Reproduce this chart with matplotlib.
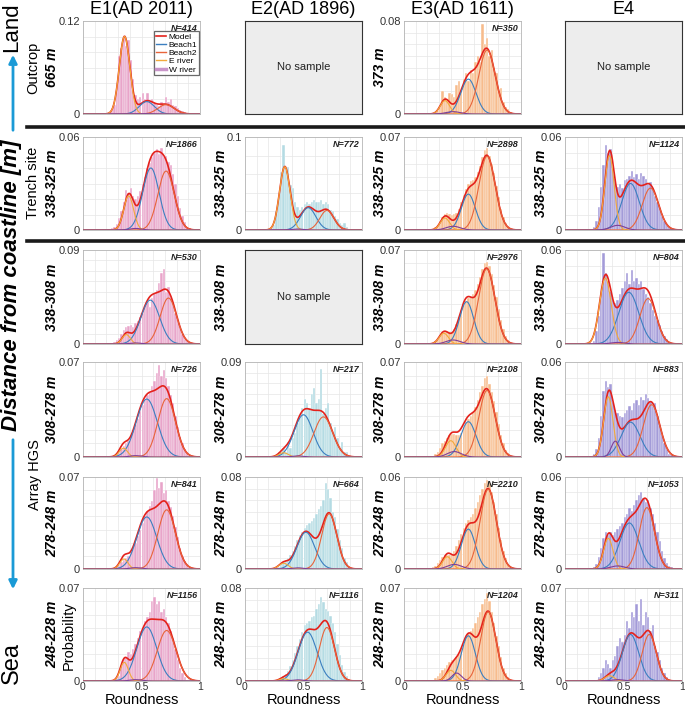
import numpy as np
import matplotlib
matplotlib.use('Agg')
import matplotlib.pyplot as plt
from matplotlib.lines import Line2D
from matplotlib.patches import FancyArrowPatch

plt.rcParams['font.family'] = ['Liberation Sans', 'DejaVu Sans']

# --- data -----------------------------------------------------------------
BIN_W = 0.02
bin_centers = np.round(np.arange(0.21, 0.951, BIN_W), 2)   # 38 bins, 0.20-0.96

column_titles = ['E1(AD 2011)', 'E2(AD 1896)', 'E3(AD 1611)', 'E4']
outcrop_dist = ['665 m', None, '373 m', None]
row_dist = [None, '338-325 m', '338-308 m', '308-278 m', '278-248 m', '248-228 m']
legend_labels = ['Model', 'Beach1', 'Beach2', 'E river', 'W river']

# y-axis maximum per panel (rows top->bottom), None = no sample
e1_ymax = [0.12, 0.06, 0.09, 0.07, 0.07, 0.07]
e2_ymax = [None, 0.1, None, 0.09, 0.08, 0.08]
e3_ymax = [0.08, 0.07, 0.07, 0.07, 0.06, 0.07]
e4_ymax = [None, 0.06, 0.06, 0.06, 0.06, 0.07]

e1_n = [414, 1866, 530, 726, 841, 1156]
e2_n = [None, 772, None, 217, 664, 1116]
e3_n = [350, 2898, 2976, 2108, 2210, 1204]
e4_n = [None, 1124, 804, 883, 1053, 311]

# histogram probabilities per bin
e1_hist = [
    [0, .002, .005, .012, .035, .075, .085, .100, .088, .095,
     .070, .045, .025, .020, .022, .027, .020, .027, .017, .020,
     .014, .012, .010, .015, .012, .022, .015, .019, .012, .010,
     .008, .005, .004, .002, .001, 0, 0, 0],
    [0, 0, .001, .002, .004, .008, .012, .018, .026, .024,
     .027, .022, .020, .022, .025, .030, .034, .040, .043, .047,
     .050, .052, .049, .053, .047, .048, .044, .042, .036, .030,
     .022, .014, .009, .005, .002, .001, 0, 0],
    [0, 0, .001, .002, .004, .006, .010, .013, .016, .017,
     .018, .016, .020, .022, .026, .030, .036, .040, .035, .044,
     .048, .052, .058, .068, .072, .050, .055, .045, .040, .030,
     .022, .015, .010, .005, .003, .001, 0, 0],
    [0, 0, 0, .001, .002, .004, .006, .008, .010, .012,
     .016, .020, .024, .028, .034, .038, .042, .046, .048, .052,
     .056, .062, .068, .060, .064, .058, .052, .046, .040, .030,
     .022, .015, .010, .006, .003, .001, 0, 0],
    [0, 0, 0, .001, .002, .003, .005, .007, .008, .010,
     .012, .015, .020, .025, .030, .035, .040, .044, .048, .052,
     .060, .069, .062, .066, .058, .060, .052, .047, .040, .032,
     .024, .016, .010, .006, .003, .001, 0, 0],
    [0, 0, 0, .001, .002, .004, .012, .017, .018, .022,
     .020, .024, .028, .032, .038, .040, .045, .048, .052, .060,
     .063, .058, .060, .052, .054, .048, .044, .038, .032, .024,
     .016, .010, .006, .003, .001, 0, 0, 0],
]
e2_hist = [
    None,
    [0, .002, .005, .020, .035, .062, .091, .065, .068, .048,
     .045, .030, .025, .022, .025, .028, .030, .028, .030, .032,
     .030, .030, .032, .028, .030, .028, .022, .020, .015, .012,
     .008, .005, .007, .003, .001, 0, 0, 0],
    None,
    [0, 0, 0, 0, .005, .005, .009, .005, .014, .009,
     .018, .023, .032, .037, .046, .055, .051, .046, .060, .065,
     .051, .055, .083, .041, .046, .051, .032, .023, .028, .018,
     .009, .014, .005, .005, 0, 0, 0, 0],
    [0, 0, 0, .001, .002, .004, .006, .008, .010, .012,
     .016, .020, .025, .030, .032, .036, .038, .040, .042, .044,
     .048, .052, .055, .060, .075, .070, .062, .050, .045, .035,
     .025, .018, .010, .006, .003, .001, 0, 0],
    [0, 0, 0, 0, .001, .002, .004, .006, .009, .013,
     .018, .024, .030, .036, .042, .048, .050, .052, .055, .056,
     .062, .066, .072, .068, .062, .060, .056, .050, .042, .032,
     .022, .014, .008, .004, .002, .001, 0, 0],
]
e3_hist = [
    [0, 0, 0, .001, .003, .006, .020, .015, .012, .018,
     .017, .015, .025, .028, .020, .030, .035, .028, .038, .035,
     .045, .050, .045, .077, .060, .065, .050, .055, .040, .035,
     .020, .022, .010, .006, .004, .002, 0, 0],
    [0, 0, .001, .002, .004, .007, .010, .012, .013, .012,
     .011, .012, .013, .016, .021, .026, .031, .035, .037, .038,
     .040, .044, .048, .055, .060, .062, .056, .050, .043, .033,
     .025, .016, .010, .005, .003, .001, 0, 0],
    [0, 0, .001, .002, .004, .007, .009, .010, .010, .009,
     .009, .011, .015, .020, .025, .029, .032, .034, .035, .037,
     .040, .045, .050, .056, .060, .061, .058, .052, .044, .035,
     .026, .018, .011, .006, .003, .001, 0, 0],
    [0, 0, .001, .002, .004, .007, .010, .012, .014, .016,
     .017, .017, .016, .016, .018, .022, .026, .028, .030, .033,
     .037, .042, .048, .052, .058, .060, .054, .048, .041, .033,
     .024, .016, .010, .005, .003, .001, 0, 0],
    [0, 0, .001, .002, .004, .006, .008, .009, .009, .009,
     .010, .012, .015, .019, .023, .027, .030, .032, .034, .036,
     .040, .044, .048, .052, .056, .058, .056, .050, .044, .036,
     .027, .019, .012, .007, .003, .001, 0, 0],
    [0, 0, .001, .002, .004, .006, .008, .010, .012, .014,
     .016, .016, .018, .020, .024, .028, .032, .036, .038, .040,
     .044, .048, .052, .058, .062, .066, .060, .052, .044, .034,
     .026, .018, .010, .006, .003, .001, 0, 0],
]
e4_hist = [
    None,
    [0, 0, .002, .006, .015, .028, .042, .055, .050, .052,
     .040, .033, .028, .030, .027, .032, .033, .035, .038, .034,
     .036, .033, .037, .035, .033, .030, .031, .027, .022, .018,
     .014, .009, .006, .003, .002, .001, 0, 0],
    [0, 0, .002, .008, .018, .032, .058, .045, .040, .033,
     .028, .026, .028, .032, .036, .040, .045, .038, .047, .040,
     .042, .038, .040, .035, .032, .030, .026, .022, .018, .015,
     .012, .008, .005, .003, .001, 0, 0, 0],
    [0, 0, .002, .005, .012, .026, .042, .048, .044, .046,
     .035, .030, .028, .026, .025, .028, .030, .032, .030, .034,
     .036, .033, .038, .036, .040, .037, .035, .032, .034, .026,
     .020, .014, .009, .005, .002, .001, 0, 0],
    [0, 0, .001, .003, .008, .014, .020, .024, .022, .024,
     .022, .024, .026, .028, .030, .034, .036, .040, .038, .042,
     .045, .048, .050, .046, .044, .045, .040, .036, .030, .024,
     .018, .012, .007, .004, .002, .001, 0, 0],
    [0, 0, 0, 0, .003, .006, .010, .016, .013, .010,
     .016, .019, .026, .032, .029, .035, .045, .040, .052, .048,
     .058, .045, .062, .042, .052, .048, .038, .042, .026, .022,
     .016, .010, .006, .003, 0, 0, 0, 0],
]

# fitted components (peak, mean, sd) in order Beach1, Beach2, E river, W river
e1_fit = [
    [(.016, .545, .065), (.012, .71, .07), (.100, .355, .045), (.0005, .50, .08)],
    [(.040, .580, .070), (.038, .710, .070), (.022, .39, .042), (.001, .45, .05)],
    [(.042, .575, .080), (.044, .73, .07), (.009, .37, .035), (.001, .45, .05)],
    [(.0427, .545, .09), (.043, .715, .075), (.0065, .345, .035), (.001, .45, .05)],
    [(.0396, .545, .085), (.045, .715, .075), (.0076, .35, .035), (.001, .45, .05)],
    [(.0407, .545, .085), (.038, .715, .08), (.014, .353, .035), (.001, .45, .05)],
]
e2_fit = [
    None,
    [(.024, .54, .065), (.021, .70, .06), (.068, .34, .045), (.001, .45, .05)],
    None,
    [(.040, .50, .08), (.038, .67, .08), (.004, .33, .04), (.001, .45, .05)],
    [(.032, .52, .075), (.048, .72, .065), (.005, .33, .04), (.001, .45, .05)],
    [(.042, .535, .08), (.046, .70, .065), (.002, .33, .035), (.001, .45, .05)],
]
e3_fit = [
    [(.030, .55, .065), (.055, .71, .07), (.0115, .35, .04), (.002, .42, .06)],
    [(.027, .55, .06), (.0555, .71, .07), (.009, .35, .04), (.0028, .42, .06)],
    [(.0315, .535, .06), (.056, .707, .07), (.008, .34, .04), (.003, .42, .06)],
    [(.026, .55, .065), (.049, .71, .07), (.012, .40, .045), (.004, .43, .06)],
    [(.026, .55, .06), (.052, .72, .07), (.008, .37, .04), (.003, .43, .06)],
    [(.034, .55, .06), (.052, .72, .065), (.008, .40, .04), (.006, .45, .04)],
]
e4_fit = [
    None,
    [(.030, .56, .075), (.027, .73, .07), (.048, .38, .04), (.003, .45, .06)],
    [(.033, .545, .085), (.029, .71, .07), (.042, .345, .05), (.001, .45, .06)],
    [(.022, .56, .08), (.033, .74, .07), (.038, .37, .04), (.010, .43, .035)],
    [(.030, .55, .08), (.040, .70, .065), (.020, .37, .04), (.002, .45, .06)],
    [(.035, .56, .07), (.035, .72, .06), (.004, .38, .04), (.001, .45, .05)],
]

# --- style ----------------------------------------------------------------
HIST_COLORS = ['#e8a4c9', '#b4dbe3', '#f7bb8c', '#a39bd8']
MODEL_C = '#e4221c'
COMP_COLORS = ['#3b7fc0', '#e8643a', '#f2a93b', '#7e3f98']

W, H = 685, 707
col_left = [83, 245, 404, 565]
col_w = 117
row_top = [21, 137, 250, 362, 477, 588]
row_bot = [114, 230, 344, 457, 569, 681]


def fig_rect(c, r):
    return [col_left[c] / W, 1 - row_bot[r] / H, col_w / W, (row_bot[r] - row_top[r]) / H]


def draw_panel(ax, hist, fit, ymax, n, color, bottom_row):
    ax.bar(bin_centers, hist, width=BIN_W, color=color, edgecolor='white',
           linewidth=0.3, zorder=2)
    x = np.linspace(0, 1, 400)
    curves = [h * np.exp(-0.5 * ((x - mu) / sd) ** 2) for h, mu, sd in fit]
    ax.plot(x, np.sum(curves, axis=0), color=MODEL_C, lw=1.2, zorder=3)
    for cv, cc in zip(curves, COMP_COLORS):
        ax.plot(x, cv, color=cc, lw=0.8, zorder=4)
    ax.set_xlim(0, 1)
    ax.set_ylim(0, ymax)
    ax.set_yticks([0, ymax])
    ax.set_yticklabels(['0', f'{ymax:g}'])
    step = 0.02 if ymax >= 0.1 else 0.01
    ax.set_yticks(np.arange(0, ymax + 1e-9, step), minor=True)
    ax.set_xticks([0, 0.5, 1])
    ax.set_xticks(np.arange(0, 1.01, 0.1), minor=True)
    ax.grid(which='both', color='#e6e6e6', lw=0.5)
    ax.set_axisbelow(True)
    ax.tick_params(which='both', length=0, labelsize=8, labelcolor='#333333', pad=2)
    ax.tick_params(axis='x', labelsize=7.5, pad=0.5)
    if bottom_row:
        ax.set_xticklabels(['0', '0.5', '1'])
        fig.text((col_left[c] + col_w / 2) / W, 1 - 706.5 / H, 'Roundness',
                 ha='center', va='bottom', fontsize=10.5)
    else:
        ax.set_xticklabels([])
    for s in ax.spines.values():
        s.set_color('#b5b5b5')
        s.set_linewidth(0.6)
    ax.text(0.98, 0.97, f'N={n}', transform=ax.transAxes, ha='right', va='top',
            fontsize=6.5, fontweight='bold', style='italic', color='#222222')


def draw_empty(ax):
    ax.set_facecolor('#ededed')
    ax.set_xticks([])
    ax.set_yticks([])
    for s in ax.spines.values():
        s.set_color('#333333')
        s.set_linewidth(0.8)
    ax.text(0.5, 0.5, 'No sample', transform=ax.transAxes, ha='center',
            va='center', fontsize=8, color='#222222')


fig = plt.figure(figsize=(W / 100, H / 100), dpi=100)

all_hist = [e1_hist, e2_hist, e3_hist, e4_hist]
all_fit = [e1_fit, e2_fit, e3_fit, e4_fit]
all_ymax = [e1_ymax, e2_ymax, e3_ymax, e4_ymax]
all_n = [e1_n, e2_n, e3_n, e4_n]

legend_ax = None
for c in range(4):
    for r in range(6):
        ax = fig.add_axes(fig_rect(c, r))
        if all_hist[c][r] is None:
            draw_empty(ax)
        else:
            draw_panel(ax, all_hist[c][r], all_fit[c][r], all_ymax[c][r],
                       all_n[c][r], HIST_COLORS[c], r == 5)
            if c == 0 and r == 0:
                legend_ax = ax
        # distance label
        label = outcrop_dist[c] if r == 0 else row_dist[r]
        if label is not None:
            yc = 1 - (row_top[r] + row_bot[r]) / 2 / H
            xl = 52 if c == 0 else col_left[c] - 24
            fig.text(xl / W, yc, label, rotation=90, ha='center', va='center',
                     fontsize=10, fontweight='bold', style='italic')
        if r == 0:
            fig.text((col_left[c] + col_w / 2) / W, 1 - 9 / H, column_titles[c],
                     ha='center', va='center', fontsize=13)

# legend in the first panel
handles = [Line2D([], [], color=MODEL_C, lw=1.2)]
handles += [Line2D([], [], color=cc, lw=1.0) for cc in COMP_COLORS[:3]]
handles += [Line2D([], [], color='#c894c8', lw=2.5)]
leg = legend_ax.legend(handles, legend_labels, loc='upper right',
                       bbox_to_anchor=(1.0, 0.9), fontsize=6, frameon=True,
                       fancybox=False, handlelength=1.3, handletextpad=0.3,
                       borderpad=0.2, labelspacing=0.05, borderaxespad=0.1)
leg.get_frame().set_edgecolor('#444444')
leg.get_frame().set_linewidth(0.9)

# separators
for yy in (127, 241):
    fig.add_artist(Line2D([27 / W, 1.0], [1 - yy / H, 1 - yy / H],
                          color='#1a1a1a', lw=2.6, transform=fig.transFigure))

# left annotations
fig.text(12 / W, 1 - 2 / H, 'Land', rotation=90, ha='center', va='top', fontsize=16)
fig.text(12 / W, 1 - 663 / H, 'Sea', rotation=90, ha='center', va='center', fontsize=17)
fig.text(12 / W, 1 - 285 / H, 'Distance from coastline [m]', rotation=90,
         ha='center', va='center', fontsize=16, fontweight='bold', style='italic')
arrow_c = '#1a9ad6'
fig.add_artist(FancyArrowPatch((13 / W, 1 - 133 / H), (13 / W, 1 - 52 / H),
                               transform=fig.transFigure, arrowstyle='-|>',
                               mutation_scale=12, color=arrow_c, lw=2))
fig.add_artist(FancyArrowPatch((13 / W, 1 - 437 / H), (13 / W, 1 - 592 / H),
                               transform=fig.transFigure, arrowstyle='-|>',
                               mutation_scale=12, color=arrow_c, lw=2))

fig.text(33 / W, 1 - 68 / H, 'Outcrop', rotation=90, ha='center', va='center', fontsize=10.5)
fig.text(33 / W, 1 - 183 / H, 'Trench site', rotation=90, ha='center', va='center', fontsize=10.5)
fig.text(35 / W, 1 - 475 / H, 'Array HGS', rotation=90, ha='center', va='center', fontsize=10.5)
fig.text(69 / W, 1 - 636 / H, 'Probability', rotation=90, ha='center', va='center', fontsize=10.5)

fig.savefig('out.png', dpi=100)
